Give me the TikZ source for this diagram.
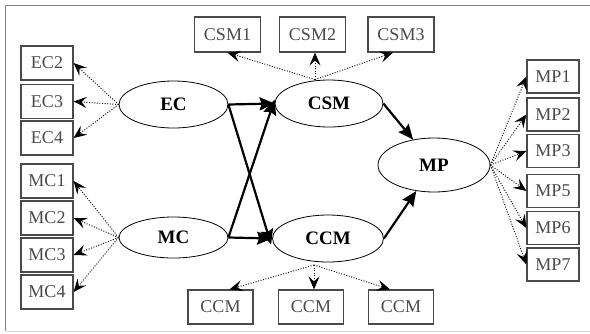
\documentclass[tikz,border=0pt]{standalone}
\usepackage{fontspec}
\setmainfont{Liberation Serif}
\usetikzlibrary{arrows.meta,shapes.geometric}
\definecolor{boxgray}{HTML}{4A4A4A}
\definecolor{framegray}{HTML}{808080}
\definecolor{framelight}{HTML}{D4D4D4}
\tikzset{
  obsbox/.style={draw=boxgray,line width=1.2pt,text=boxgray,inner sep=0pt,
    font=\fontsize{18}{20}\selectfont},
  smallbox/.style={obsbox,minimum width=52pt,minimum height=34pt},
  widebox/.style={obsbox,minimum width=66pt,minimum height=35pt},
  latent/.style={draw=black,line width=0.8pt,ellipse,inner sep=0pt,
    font=\fontsize{19}{21}\selectfont\bfseries},
  loadarrow/.style={line width=0.9pt,dash pattern=on 1pt off 1.6pt,
    -{Stealth[length=13pt,width=11pt,inset=5pt]}},
  patharrow/.style={line width=2.2pt,-{Stealth[length=15pt,width=13pt,inset=2pt]}}
}
\begin{document}
\begin{tikzpicture}[x=1pt,y=-1pt]
\useasboundingbox (0,0) rectangle (590,333);
% frame
\draw[framegray,line width=1.6pt] (5.5,331) -- (5.5,5.5) -- (590,5.5);
\draw[framelight,line width=1.6pt] (5.5,331.5) -- (590,331.5);

% latent variables
\node[latent,minimum width=109pt,minimum height=47pt] (EC) at (173.5,104.5) {EC};
\node[latent,minimum width=109pt,minimum height=41pt] (MC) at (173.5,237.5) {MC};
\node[latent,minimum width=108pt,minimum height=47pt] (CSM) at (329,103.5) {CSM};
\node[latent,minimum width=111pt,minimum height=47pt] (CCM) at (328,238.5) {CCM};
\node[latent,minimum width=112pt,minimum height=54pt] (MP) at (434,165) {MP};

% observed boxes
\node[smallbox] (EC2) at (47,63) {EC2};
\node[smallbox] (EC3) at (47,101.5) {EC3};
\node[smallbox] (EC4) at (47,138) {EC4};
\node[smallbox] (MC1) at (47,181) {MC1};
\node[smallbox] (MC2) at (47,218) {MC2};
\node[smallbox] (MC3) at (47,255) {MC3};
\node[smallbox] (MC4) at (47,292) {MC4};
\node[widebox] (CSM1) at (227.5,34.5) {CSM1};
\node[widebox] (CSM2) at (312.5,34.5) {CSM2};
\node[widebox] (CSM3) at (401,34.5) {CSM3};
\node[smallbox,minimum height=33pt] (MP1) at (553,76.5) {MP1};
\node[smallbox,minimum height=33pt] (MP2) at (553,114.5) {MP2};
\node[smallbox,minimum height=33pt] (MP3) at (553,151) {MP3};
\node[smallbox,minimum height=33pt] (MP5) at (553,191) {MP5};
\node[smallbox,minimum height=33pt] (MP6) at (553,228) {MP6};
\node[smallbox,minimum height=33pt] (MP7) at (553,264.5) {MP7};
\node[widebox,minimum width=65pt,minimum height=34pt] (CCMa) at (220.5,307) {CCM};
\node[widebox,minimum width=65pt,minimum height=34pt] (CCMb) at (311,307) {CCM};
\node[widebox,minimum width=65pt,minimum height=34pt] (CCMc) at (401,307) {CCM};

% sources for fans
\coordinate (csmsrc) at ([xshift=-14pt]CSM.north);
\coordinate (ccmsrc) at (314,265);

% loadings
\foreach \t in {EC2,EC3,EC4} \draw[loadarrow] (EC.west) -- (\t.east);
\foreach \t in {MC1,MC2,MC3,MC4} \draw[loadarrow] (MC.west) -- (\t.east);
\foreach \t in {MP1,MP2,MP3,MP5,MP6,MP7} \draw[loadarrow] (MP.east) -- (\t.west);
\draw[loadarrow] (csmsrc) -- (CSM1.south);
\draw[loadarrow] (csmsrc) -- (csmsrc |- CSM2.south);
\draw[loadarrow] (csmsrc) -- ([xshift=-8pt]CSM3.south);
\draw[loadarrow] (ccmsrc) -- ([xshift=9pt]CCMa.north);
\draw[loadarrow] (ccmsrc) -- (ccmsrc |- CCMb.north);
\draw[loadarrow] (ccmsrc) -- ([xshift=-11pt]CCMc.north);

% structural paths
\draw[patharrow] (EC.east) -- (CSM.west);
\draw[patharrow] (EC.east) -- ([shift={(-1pt,-6pt)}]CCM.west);
\draw[patharrow] (MC.east) -- (CCM.west);
\draw[patharrow] (MC.east) -- ([shift={(0pt,4pt)}]CSM.west);
\draw[patharrow] (CSM.east) -- (MP);
\draw[patharrow] (CCM.east) -- (MP);
\end{tikzpicture}
\end{document}
